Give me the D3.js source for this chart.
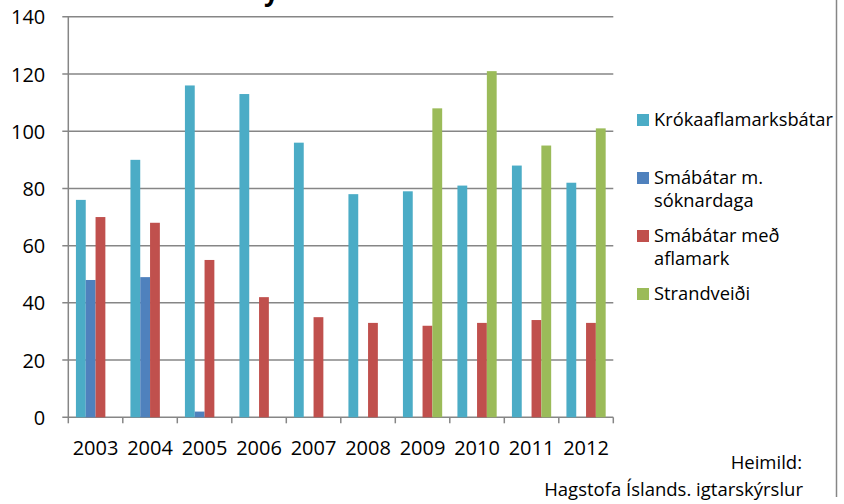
<!DOCTYPE html>
<html><head><meta charset="utf-8">
<script src="https://cdn.jsdelivr.net/npm/d3@7/dist/d3.min.js"></script>
<style>body{margin:0;background:#fff}svg{display:block}text{font-family:"Open Sans",sans-serif;fill:#000}</style>
</head><body><svg id="c" width="844" height="504"></svg>
<script>
const years = ["2003","2004","2005","2006","2007","2008","2009","2010","2011","2012"];
const seriesNames = ["Krókaaflamarksbátar","Smábátar m. sóknardaga","Smábátar með aflamark","Strandveiði"];
const legendLines = [["Krókaaflamarksbátar"],["Smábátar m.","sóknardaga"],["Smábátar með","aflamark"],["Strandveiði"]];
const krokaafl = [76,90,116,113,96,78,79,81,88,82];
const soknardaga = [48,49,2,null,null,null,null,null,null,null];
const aflamark = [70,68,55,42,35,33,32,33,34,33];
const strandveidi = [null,null,null,null,null,null,108,121,95,101];
const yTicks = [0,20,40,60,80,100,120,140];
const colors = ["#4BACC6","#4F81BD","#C0504D","#9BBB59"];
const seriesVals = [krokaafl, soknardaga, aflamark, strandveidi];

const svg = d3.select("#c");
const L = 68.3, R = 613.3, T = 16.8, B = 417.3;
const x0 = d3.scaleBand().domain(years).range([L, R]).padding(0);
const bw = x0.bandwidth();
const x1 = d3.scaleBand().domain(d3.range(4)).range([bw*0.14, bw*0.86]).padding(0);
const y = d3.scaleLinear().domain([0,140]).range([B, T]);

// title fragment (cut off at top edge, as in the reference)
svg.append("text").attr("x", 264).attr("y", 1).style("font-size","26px").style("font-weight","bold").text("y");

// gridlines
svg.append("g").selectAll("line").data(yTicks).join("line")
  .attr("x1", L-6).attr("x2", R).attr("y1", d=>y(d)).attr("y2", d=>y(d))
  .attr("stroke","#868686").attr("stroke-width",1.5);

// bars
seriesVals.forEach((vals, si) => {
  svg.append("g").selectAll("rect").data(years.map((yr,i)=>({yr, v: vals[i]})).filter(d=>d.v!=null)).join("rect")
    .attr("x", d => x0(d.yr) + x1(si))
    .attr("width", x1.bandwidth())
    .attr("y", d => y(d.v))
    .attr("height", d => B - y(d.v))
    .attr("fill", colors[si]);
});

// y axis
const yAxis = d3.axisLeft(y).tickValues(yTicks).tickSize(0).tickPadding(0);
const gy = svg.append("g").attr("transform", `translate(${L},0)`).call(yAxis);
gy.select(".domain").remove();
gy.selectAll("text").attr("x", -23).attr("dy","0.35em").style("font-size","20px").style("font-family","'Open Sans',sans-serif");
svg.append("line").attr("x1",L).attr("x2",L).attr("y1",T).attr("y2",B).attr("stroke","#868686").attr("stroke-width",1.5);

// x axis
const xAxis = d3.axisBottom(x0).tickSize(0).tickPadding(0);
const gx = svg.append("g").attr("transform", `translate(0,${B})`).call(xAxis);
gx.select(".domain").remove();
gx.selectAll("text").attr("y", 24).attr("dy","0.71em").style("font-size","20px").style("font-family","'Open Sans',sans-serif");
const xt = years.map(d=>x0(d)).concat([R]);
svg.append("g").selectAll("line").data(xt).join("line")
  .attr("x1",d=>d).attr("x2",d=>d).attr("y1",B).attr("y2",B+6)
  .attr("stroke","#868686").attr("stroke-width",1.5);

// legend
const legY = [120, 178, 236, 294];
const lg = svg.append("g");
legendLines.forEach((lines, i) => {
  lg.append("rect").attr("x",637).attr("y",legY[i]-6).attr("width",12).attr("height",12).attr("fill",colors[i]);
  const t = lg.append("text").attr("x",654).attr("y",legY[i]).style("font-size","18.3px");
  lines.forEach((ln, j) => t.append("tspan").attr("x",654).attr("dy", j===0 ? "0.35em" : "23").text(ln));
});

// right border
svg.append("line").attr("x1",836.5).attr("x2",836.5).attr("y1",0).attr("y2",497).attr("stroke","#868686").attr("stroke-width",1.5);

// source
svg.append("text").attr("x",802).attr("y",463).attr("dy","0.35em").attr("text-anchor","end").style("font-size","18.5px").text("Heimild:");
svg.append("text").attr("x",803).attr("y",490).attr("dy","0.35em").attr("text-anchor","end").style("font-size","18.5px").text("Hagstofa Íslands. igtarskýrslur");
</script></body></html>
